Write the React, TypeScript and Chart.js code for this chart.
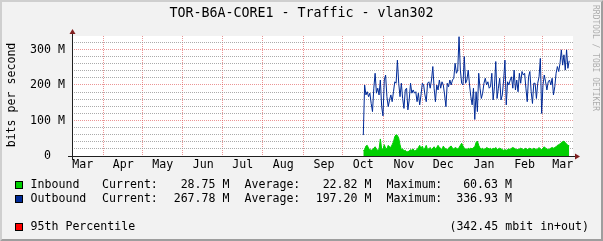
import React, { useEffect, useRef } from 'react';
import { Chart, registerables } from 'chart.js';

Chart.register(...registerables);

const W = 603;
const H = 241;

const TITLE = 'TOR-B6A-CORE1 - Traffic - vlan302';
const Y_AXIS_TITLE = 'bits per second';
const WATERMARK = 'RRDTOOL / TOBI OETIKER';

// Day numbers counted from 1 March of the first year (the following February has 29 days)
const MONTH_NAMES = ['Mar', 'Apr', 'May', 'Jun', 'Jul', 'Aug', 'Sep', 'Oct', 'Nov', 'Dec', 'Jan', 'Feb', 'Mar'];
const MONTH_START_DAYS = [0, 31, 61, 92, 122, 153, 184, 214, 245, 275, 306, 337, 366];
const MONTH_LABEL_OFFSET = 15.5;
const X_MIN_DAY = 7.36;
const X_MAX_DAY = 389.4;
const DATA_START_DAY = 229.5; // mid October, one sample per day

const Y_MAX = 338;
const Y_GRID_VALUES = [0, 20, 40, 60, 80, 100, 120, 140, 160, 180, 200, 220, 240, 260, 280, 300, 320];
const Y_LABEL_VALUES = [0, 100, 200, 300];
const Y_LABELS = ['  0  ', '100 M', '200 M', '300 M'];

// Mbit/s, daily
const INBOUND = [
  15, 18, 28, 30, 22, 18, 16, 18, 22, 26, 20, 16, 18, 48, 20, 18, 32, 22, 20, 30,
  26, 24, 32, 40, 55, 60, 58, 50, 32, 18, 20, 14, 16, 12, 12, 14, 18, 16, 20, 14,
  16, 18, 24, 30, 20, 28, 18, 22, 30, 18, 20, 24,
  18, 22, 26, 20, 24, 30, 24, 22, 18, 28, 22, 20, 18, 22, 26, 28, 22, 20, 24, 22,
  20, 24, 30, 36, 28, 22, 20, 18, 22, 20, 22, 20, 24, 26, 38, 42, 30, 22, 20, 22,
  18, 20, 24, 22, 20, 22, 18, 22, 20, 24, 18, 20, 22,
  20, 18, 16, 18, 16, 18, 20, 18, 22, 24, 22, 20, 18, 18, 20, 22, 20, 18, 20, 22,
  18, 20, 22, 20, 18, 22, 20, 18, 20, 24, 20, 18, 22, 26, 22, 20, 18, 20, 22, 24,
  22, 24, 26, 30, 32, 34, 38, 40, 42, 38, 34, 30, 29,
];

const OUTBOUND = [
  59, 200, 172, 181, 167, 177, 148, 125, 191, 233, 177, 191, 172, 214, 139, 113, 214, 228, 167, 139,
  158, 172, 153, 181, 209, 205, 270, 205, 167, 205, 162, 134, 186, 191, 130, 158, 205, 177, 186, 177,
  181, 153, 177, 144, 172, 205, 200, 172, 153, 205, 209, 191,
  214, 252, 191, 153, 200, 186, 214, 191, 209, 200, 172, 139, 205, 195, 214, 200, 214, 219, 261, 233,
  242, 336, 242, 205, 200, 280, 205, 214, 242, 200, 167, 144, 191, 103, 181, 125, 233, 191, 162, 177,
  205, 219, 200, 209, 191, 195, 233, 158, 195, 266, 162, 191, 219,
  158, 172, 214, 270, 144, 209, 200, 214, 223, 191, 242, 186, 214, 181, 233, 205, 238, 228, 233, 191,
  153, 223, 238, 181, 148, 205, 205, 162, 205, 223, 275, 120, 200, 228, 209, 186, 209, 214, 200, 219,
  172, 195, 233, 252, 238, 261, 299, 256, 285, 242, 299, 247, 268,
];

const LEGEND_NAMES = ['Inbound', 'Outbound'];
const LEGEND_CURRENT = ['28.75 M', '267.78 M'];
const LEGEND_AVERAGE = ['22.82 M', '197.20 M'];
const LEGEND_MAXIMUM = ['60.63 M', '336.93 M'];
const PERCENTILE_NAME = '95th Percentile';
const PERCENTILE_TEXT = '(342.45 mbit in+out)';

const COLOR_IN = '#00CF00';
const COLOR_OUT = '#002A97';
const COLOR_PCT = '#FF0000';
const BACK = '#F2F2F2';
const SHADEA = '#CFCFCF';
const SHADEB = '#9E9E9E';
const GRID = 'rgba(143,143,143,0.75)';
const MGRID = 'rgba(222,79,79,0.6)';
const ARROW = '#801F1F';
const AXIS = '#1F1F1F';
const MONO = "'DejaVu Sans Mono', monospace";

type XTick = { value: number; grid: boolean; label: string };
const X_TICKS: XTick[] = [];
MONTH_START_DAYS.forEach((d, i) => {
  if (d >= X_MIN_DAY && d <= X_MAX_DAY) X_TICKS.push({ value: d, grid: true, label: '' });
  const m = d + MONTH_LABEL_OFFSET;
  if (m >= X_MIN_DAY && m <= X_MAX_DAY) X_TICKS.push({ value: m, grid: false, label: MONTH_NAMES[i] });
});

const rrdPlugin = {
  id: 'rrdFrame',
  beforeDraw(chart: any) {
    const { ctx, chartArea: a } = chart;
    ctx.save();
    ctx.fillStyle = BACK;
    ctx.fillRect(0, 0, W, H);
    ctx.fillStyle = SHADEA;
    ctx.beginPath();
    ctx.moveTo(0, H);
    ctx.lineTo(2, H - 2);
    ctx.lineTo(2, 2);
    ctx.lineTo(W - 2, 2);
    ctx.lineTo(W, 0);
    ctx.lineTo(0, 0);
    ctx.closePath();
    ctx.fill();
    ctx.fillStyle = SHADEB;
    ctx.beginPath();
    ctx.moveTo(2, H - 2);
    ctx.lineTo(W - 2, H - 2);
    ctx.lineTo(W - 2, 2);
    ctx.lineTo(W, 0);
    ctx.lineTo(W, H);
    ctx.lineTo(0, H);
    ctx.closePath();
    ctx.fill();
    ctx.fillStyle = '#FFFFFF';
    ctx.fillRect(a.left, a.top, a.right - a.left, a.bottom - a.top);
    ctx.restore();
  },
  afterDatasetsDraw(chart: any) {
    const { ctx, chartArea: a } = chart;
    const y0 = Math.round(chart.scales.y.getPixelForValue(0)) + 0.5;
    const x0 = Math.round(a.left) + 0.5;
    ctx.save();
    ctx.setLineDash([]);
    ctx.strokeStyle = AXIS;
    ctx.lineWidth = 1;
    ctx.beginPath();
    ctx.moveTo(a.left - 4, y0);
    ctx.lineTo(a.right + 4, y0);
    ctx.moveTo(x0, a.bottom + 4);
    ctx.lineTo(x0, a.top - 4);
    ctx.stroke();
    ctx.fillStyle = ARROW;
    ctx.beginPath();
    ctx.moveTo(a.right + 2, y0 - 3);
    ctx.lineTo(a.right + 2, y0 + 3);
    ctx.lineTo(a.right + 7, y0);
    ctx.closePath();
    ctx.fill();
    ctx.beginPath();
    ctx.moveTo(x0 - 3, a.top - 2);
    ctx.lineTo(x0 + 3, a.top - 2);
    ctx.lineTo(x0, a.top - 7);
    ctx.closePath();
    ctx.fill();
    ctx.restore();
  },
  afterDraw(chart: any) {
    const { ctx } = chart;
    ctx.save();
    ctx.fillStyle = '#000';
    // title
    ctx.font = `13.3px ${MONO}`;
    ctx.textAlign = 'center';
    ctx.textBaseline = 'middle';
    ctx.fillText(TITLE, W / 2, 14);
    // y axis title
    ctx.font = `11.6px ${MONO}`;
    ctx.save();
    ctx.translate(11.5, 95);
    ctx.rotate(-Math.PI / 2);
    ctx.fillText(Y_AXIS_TITLE, 0, 0);
    ctx.restore();
    // watermark
    ctx.save();
    ctx.fillStyle = 'rgba(0,0,0,0.3)';
    ctx.font = `8px ${MONO}`;
    ctx.translate(599, 5);
    ctx.rotate(Math.PI / 2);
    ctx.textAlign = 'left';
    ctx.textBaseline = 'top';
    ctx.fillText(WATERMARK, 0, 0);
    ctx.restore();
    // legend
    ctx.font = `11.6px ${MONO}`;
    ctx.textBaseline = 'middle';
    const rows = [185, 199];
    const colors = [COLOR_IN, COLOR_OUT];
    const box = (cy: number, color: string) => {
      ctx.fillStyle = color;
      ctx.fillRect(15, cy - 4, 8, 8);
      ctx.strokeStyle = '#000';
      ctx.lineWidth = 1;
      ctx.strokeRect(15.5, cy - 3.5, 7, 7);
      ctx.fillStyle = '#000';
    };
    rows.forEach((cy, i) => {
      box(cy, colors[i]);
      ctx.textAlign = 'left';
      ctx.fillText(LEGEND_NAMES[i], 30.5, cy);
      ctx.fillText('Current:', 102, cy);
      ctx.fillText('Average:', 244.5, cy);
      ctx.fillText('Maximum:', 386.5, cy);
      ctx.textAlign = 'right';
      ctx.fillText(LEGEND_CURRENT[i], 229.5, cy);
      ctx.fillText(LEGEND_AVERAGE[i], 371.5, cy);
      ctx.fillText(LEGEND_MAXIMUM[i], 512, cy);
    });
    box(227, COLOR_PCT);
    ctx.textAlign = 'left';
    ctx.fillText(PERCENTILE_NAME, 30.5, 227);
    ctx.textAlign = 'right';
    ctx.fillText(PERCENTILE_TEXT, 589, 227);
    ctx.restore();
  },
};

export default function App() {
  const ref = useRef<HTMLCanvasElement | null>(null);

  useEffect(() => {
    document.body.style.margin = '0';
    const canvas = ref.current;
    if (!canvas) return;
    const tickFont = { family: MONO, size: 11.6 };
    const chart = new Chart(canvas, {
      type: 'line',
      data: {
        datasets: [
          {
            label: 'Outbound',
            data: OUTBOUND.map((v, i) => ({ x: DATA_START_DAY + i, y: v })),
            borderColor: COLOR_OUT,
            borderWidth: 1,
            pointRadius: 0,
            fill: false,
            tension: 0,
            order: 0,
          },
          {
            label: 'Inbound',
            data: INBOUND.map((v, i) => ({ x: DATA_START_DAY + i, y: v })),
            borderColor: COLOR_IN,
            backgroundColor: COLOR_IN,
            borderWidth: 1,
            pointRadius: 0,
            fill: 'origin',
            tension: 0,
            order: 1,
          },
        ],
      },
      options: {
        animation: false,
        responsive: false,
        devicePixelRatio: 1,
        events: [],
        layout: { padding: { left: 0, top: 36, right: 30, bottom: 0 } },
        plugins: { legend: { display: false }, tooltip: { enabled: false }, title: { display: false } },
        scales: {
          x: {
            type: 'linear',
            min: X_MIN_DAY,
            max: X_MAX_DAY,
            afterBuildTicks: (s: any) => {
              s.ticks = X_TICKS.map((t) => ({ value: t.value }));
            },
            afterFit: (s: any) => {
              s.height = 85;
            },
            grid: {
              color: (c: any) => (X_TICKS[c.index] && X_TICKS[c.index].grid ? MGRID : 'rgba(0,0,0,0)'),
              lineWidth: 1,
              drawTicks: false,
            },
            border: { display: false, dash: [1, 1] },
            ticks: {
              autoSkip: false,
              maxRotation: 0,
              minRotation: 0,
              padding: 2,
              color: '#000',
              font: tickFont,
              callback: (_v: any, i: number) => (X_TICKS[i] ? X_TICKS[i].label : ''),
            },
          },
          y: {
            type: 'linear',
            min: 0,
            max: Y_MAX,
            afterBuildTicks: (s: any) => {
              s.ticks = Y_GRID_VALUES.map((v) => ({ value: v }));
            },
            afterFit: (s: any) => {
              s.width = 72;
            },
            grid: {
              color: (c: any) => (c.tick && Y_LABEL_VALUES.indexOf(c.tick.value) >= 0 ? MGRID : GRID),
              lineWidth: 1,
              drawTicks: false,
            },
            border: { display: false, dash: [1, 1] },
            ticks: {
              autoSkip: false,
              padding: 7,
              color: '#000',
              font: tickFont,
              callback: (v: any) => {
                const k = Y_LABEL_VALUES.indexOf(Number(v));
                return k >= 0 ? Y_LABELS[k] : '';
              },
            },
          },
        },
      },
      plugins: [rrdPlugin],
    } as any);
    return () => chart.destroy();
  }, []);

  return (
    <div style={{ position: 'fixed', left: 0, top: 0, width: W, height: H }}>
      <canvas ref={ref} width={W} height={H} style={{ display: 'block', width: W, height: H }} />
    </div>
  );
}
